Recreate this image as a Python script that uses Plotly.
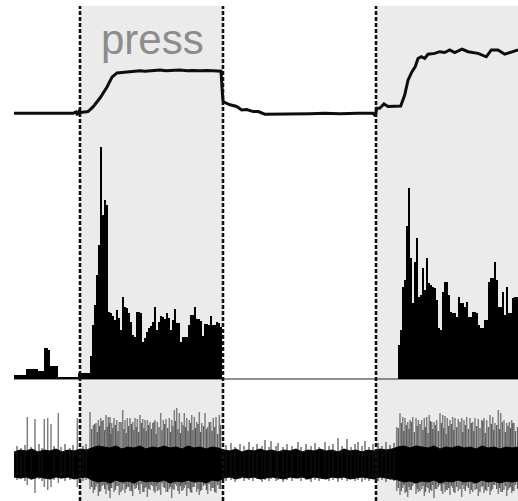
import numpy as np
import plotly.graph_objects as go

# ---------------- data (time in units of 20 ms) ----------------
press_label = "press"
press_onsets = [80, 376]
press_offsets = [223, 518]
event_lines = [80, 223, 376]

# force trace (normalised units)
force_t = [14, 73, 76, 77.5, 79, 81, 88, 93, 100, 104, 107, 112, 117, 122, 127, 133, 140, 145, 150, 155,
           160, 166, 173, 180, 187, 193, 200, 207, 213, 218, 221, 222.7, 223.3, 230, 236.7, 241.7, 246.7,
           253.3, 258.3, 264.7, 278, 291, 310, 324.7, 340, 358, 373, 375.3, 376.7, 379.7, 384, 388, 394.7,
           400.7, 404.7, 408, 412, 415.3, 418, 421.3, 424.7, 428, 434.7, 439.7, 444.7, 449.7, 454.7, 462,
           468, 478, 486.3, 491.3, 498, 504.7, 511.3, 516.3, 518]
force_v = [0, 0, 0.03, -0.04, 0.05, 0.02, 0.04, 0.15, 0.36, 0.5, 0.62, 0.85, 0.95, 0.96, 0.97, 0.99, 1.0,
           0.99, 1.0, 1.01, 1.02, 1.0, 1.01, 1.02, 1.0, 1.01, 1.0, 1.01, 1.0, 1.0, 0.99, 0.36, 0.27, 0.2,
           0.16, 0.08, 0.09, 0.04, 0.04, -0.02, -0.02, -0.02, -0.01, 0, -0.01, 0, 0, -0.06, 0.12, 0.12,
           0.22, 0.16, 0.16, 0.17, 0.43, 0.78, 0.98, 1.10, 1.29, 1.33, 1.29, 1.39, 1.41, 1.45, 1.43, 1.49,
           1.43, 1.51, 1.45, 1.41, 1.33, 1.49, 1.49, 1.39, 1.44, 1.47, 1.49]

# firing-rate histogram (Hz), bin width 2 units
bin_width = 2
rate_left_start = 14
rate_left = [2, 2, 2, 2, 2, 2, 5, 5, 5, 5, 5, 5, 4, 4, 4, 15.5, 15.5, 14.5, 6.5, 6.5, 6.5, 6.5,
             1, 1, 1, 1, 1, 1, 1, 1, 1, 1, 3, 3, 3, 3, 3, 3,
             11.5, 27, 37, 52, 67, 116, 82, 89.5, 87, 33.5,
             33, 31.5, 29.5, 34.5, 30.5, 24.5, 41, 36, 35.5, 33,
             28.5, 22, 21, 33.5, 33.5, 33, 18.5, 20.5, 23.5, 25.5,
             26.5, 28.5, 36, 24.5, 28.5, 31.5, 31, 30, 33, 30.5,
             24.5, 29.5, 35, 28, 28, 18.5, 21, 21, 21, 27,
             32, 32, 36, 30, 30, 29, 21.5, 27.5, 27.5, 27,
             31.5, 27, 27, 28.5, 28, 26]
rate_right_start = 398
rate_right = [17, 24.5, 46, 49.5, 76.5, 95.5, 60.5, 38, 58.5, 70.5,
              41, 42, 55.5, 44.5, 60.5, 48, 47, 46, 45.5, 39.5,
              25.5, 24.5, 43.5, 48.5, 48.5, 42, 33.5, 33, 33, 31,
              41, 38, 38, 36, 38.5, 31, 31, 33.5, 33.5, 33,
              27, 25.5, 25.5, 29.5, 29.5, 48.5, 50.5, 50.5, 58.5, 49.5,
              36, 36, 43.5, 32, 46, 33, 33, 40.5, 41, 41]
rate_t_start, rate_t_end = 14, 518

# raw extracellular trace: noise band envelope (sampled evenly from 14 to 518)
band_t_start, band_t_end = 14, 518
band_up = [13, 15, 14, 16, 13, 15, 14, 16, 13, 15, 14, 16, 15,
           17, 19, 18, 17, 19, 16, 18, 17, 19, 16, 18, 17, 19, 17, 18, 16, 19, 17, 18, 16, 18, 17,
           15, 14, 16, 13, 15, 14, 16, 14, 15, 13, 15, 14, 16, 13, 15, 14, 16, 14, 15, 13,
           16, 14, 15, 13, 15, 14, 16, 15, 16,
           18, 19, 17, 19, 18, 17, 19, 16, 18, 17, 19, 17, 18, 16, 19, 17, 18, 16, 18, 17, 18]
band_lo = [-12, -13, -12, -14, -12, -13, -14, -12, -13, -12, -14, -13, -12,
           -15, -17, -16, -18, -15, -17, -16, -18, -15, -17, -16, -17, -15, -18, -16, -17, -15, -17,
           -16, -18, -15, -16,
           -13, -12, -14, -12, -13, -12, -14, -13, -12, -13, -14, -12, -13, -12, -14, -12, -13, -14,
           -12, -13, -12, -14, -13, -12, -13, -14, -12, -13, -14,
           -15, -17, -16, -18, -16, -17, -15, -18, -16, -17, -15, -17, -16, -18, -15, -17, -16, -18,
           -16, -17, -16]

# small noise excursions
hair_t = [17, 21, 25, 31, 39, 42, 54, 61, 65, 70, 73, 83, 86,
          226, 231, 235, 240, 244, 249, 253, 257, 262, 265, 269, 271, 276, 278, 283, 287, 292, 298,
          301, 306, 311, 315, 319, 325, 329, 333, 338, 342, 347, 351, 355, 358, 362, 365, 369, 373,
          378, 382, 386, 390, 394]
hair_up = [19, 17, 20, 18, 21, 17, 19, 18, 21, 17, 20, 19, 21,
           20, 22, 18, 21, 19, 23, 18, 21, 19, 25, 18, 24, 19, 22, 18, 21, 19, 23,
           18, 21, 19, 22, 18, 23, 19, 21, 27, 19, 26, 18, 21, 23, 19, 24, 18, 21,
           22, 19, 23, 20, 22]
hair_dn = [-15, -14, -16, -15, -14, -16, -15, -14, -16, -15, -14, -16, -15,
           -16, -15, -17, -14, -16, -15, -16, -14, -17, -15, -16, -14, -16, -15, -17, -15, -16, -14,
           -16, -15, -17, -15, -16, -14, -16, -15, -17, -15, -16, -14, -16, -15, -17, -15, -16, -14,
           -16, -15, -17, -15, -16]

# large action potentials (upward peak / downward trough)
spike_t = [27.3, 35, 44.3, 47.7, 51, 58.3, 77.3,
           90, 93.3, 96, 98.3, 100.7, 103.3, 106, 108.3, 110, 111.7, 114, 116.7, 119.3, 122.7, 125,
           127.3, 130, 132.7, 135, 137.3, 140, 142.7, 145, 147.3, 150, 152.7, 155, 157.3, 160.7, 163.3,
           166, 169.3, 171.7, 174.3, 176.7, 179.3, 181.7, 184.3, 186.7, 189.3, 191.7, 194.3, 196.7,
           199.3, 201.7, 205, 207.7, 210.7, 213.3, 216, 219.3,
           396.7, 400, 402.7, 405, 407.7, 410, 412.7, 416, 418.3, 421.7, 424.3, 426.7, 429.3, 431.7,
           434, 436.7, 440, 442.7, 445, 447.3, 450, 452.7, 455, 458.3, 461.7, 464, 466.7, 470, 472.7,
           475, 478.3, 481.7, 484, 486.7, 490, 492.7, 495, 498.3, 500.7, 504, 506.7, 509.3, 511.7, 514]
spike_up = [48, 46, 46, 47, 41, 52, 47,
            53, 40, 42, 45, 47, 45, 50, 48, 48, 42, 47, 45, 43, 55, 45,
            47, 47, 43, 47, 46, 50, 46, 45, 45, 43, 42, 45, 43, 52, 45,
            46, 47, 45, 55, 57, 52, 43, 52, 47, 45, 50, 48, 43,
            53, 42, 52, 38, 43, 47, 48, 50,
            38, 52, 48, 47, 43, 45, 48, 47, 45, 45, 47, 48, 50, 43,
            43, 45, 52, 50, 49, 47, 45, 48, 47, 46, 47, 45, 48, 47, 43,
            47, 46, 45, 47, 45, 50, 48, 42, 55, 52, 45, 42, 43, 45, 42]
spike_dn = [-20, -28, -22, -25, -22, -18, -22,
            -24, -28, -22, -31, -26, -20, -29, -25, -33, -23, -27, -21, -30, -25, -28,
            -22, -26, -31, -24, -20, -29, -27, -23, -32, -25, -21, -28, -26, -30, -22,
            -27, -24, -33, -25, -21, -29, -26, -23, -31, -24, -28, -22, -27,
            -30, -25, -20, -29, -26, -23, -28, -24,
            -26, -30, -23, -28, -32, -25, -21, -29, -27, -24, -31, -22, -28, -26,
            -33, -24, -20, -29, -27, -25, -30, -23, -28, -26, -32, -24, -21,
            -29, -27, -25, -31, -22, -28, -26, -30, -24, -20, -29, -27, -25, -31, -23, -28, -26]

# smaller action potentials between the large ones
spike2_t = [91.7, 94.7, 97.2, 99.5, 102, 104.7, 107.2, 109.2, 110.9, 112.9, 115.4, 118, 121, 123.9,
            126.2, 128.7, 131.4, 133.9, 136.2, 138.7, 141.4, 143.9, 146.2, 148.7, 151.4, 153.9, 156.2,
            159, 162, 164.7, 167.7, 170.5, 173, 175.5, 178, 180.5, 183, 185.5, 188, 190.5, 193, 195.5,
            198, 200.5, 203.4, 206.4, 209.2, 212, 214.7, 217.7, 220.5,
            398.3, 401.3, 403.8, 406.3, 409, 411.3, 414.3, 417.2, 420, 423, 425.5, 428, 430.5, 432.8,
            435.3, 438.3, 441.3, 443.8, 446.2, 448.7, 451.3, 453.8, 456.7, 460, 462.8, 465.3, 468.3,
            471.3, 473.8, 476.7, 480, 482.8, 485.3, 488.3, 491.3, 493.8, 496.7, 499.5, 502.3, 505.3,
            508, 510.5, 512.8, 515.5, 517.5]
spike2_up = [36, 41, 33, 39, 44, 35, 38, 42, 31, 37, 40, 34, 43, 36, 32, 39, 41, 35, 38, 33,
             42, 37, 34, 40, 36, 43, 31, 38, 35, 41, 37, 33, 39, 44, 36, 32, 40, 38, 34, 42,
             35, 37, 41, 33, 39, 36, 43, 34, 38, 31, 40,
             37, 42, 34, 40, 36, 43, 33, 39, 41, 35, 38, 32, 44, 36, 40, 34, 42, 37, 31, 39,
             41, 35, 38, 43, 33, 40, 36, 42, 34, 39, 37, 44, 32, 38, 41, 35, 40, 36, 43, 33,
             39, 37, 42, 34, 38]
spike2_dn = [-22, -25, -19, -27, -21, -24, -20, -26, -23, -18, -25, -21, -27, -19, -24, -22, -26,
             -20, -23, -25, -19, -27, -22, -24, -20, -26, -21, -25, -18, -23, -27, -22, -24, -19,
             -26, -21, -25, -20, -23, -27, -22, -18, -24, -26, -21, -25, -19, -23, -27, -20, -24,
             -23, -26, -20, -27, -22, -25, -19, -24, -26, -21, -27, -23, -25, -20, -24, -22, -26,
             -19, -25, -23, -21, -27, -22, -24, -20, -26, -23, -25, -19, -24, -27, -21, -25, -22,
             -26, -20, -24, -23, -27, -21, -25, -22, -26, -20, -24]

# ---------------- figure ----------------
W, H = 518, 501
fig = go.Figure()

# top: force
fig.add_trace(go.Scatter(x=force_t, y=force_v, mode="lines", yaxis="y3",
                         line=dict(color="#0d0d0d", width=3), hoverinfo="skip"))

# middle: rate histogram
xl = rate_left_start + bin_width / 2 + bin_width * np.arange(len(rate_left))
xr = rate_right_start + bin_width / 2 + bin_width * np.arange(len(rate_right))
fig.add_trace(go.Bar(x=np.concatenate([xl, xr]), y=rate_left + rate_right, width=bin_width,
                     yaxis="y2", marker=dict(color="#000000", line=dict(width=0)), hoverinfo="skip"))


def segments(ts, ups, dns):
    xs, ys = [], []
    for t, u, d in zip(ts, ups, dns):
        xs += [t, t, None]
        ys += [d, u, None]
    return xs, ys


# bottom: raw trace
sx, sy = segments(spike_t, spike_up, spike_dn)
fig.add_trace(go.Scatter(x=sx, y=sy, mode="lines", yaxis="y",
                         line=dict(color="rgba(120,120,120,0.95)", width=1.5), hoverinfo="skip"))
s2x, s2y = segments(spike2_t, spike2_up, spike2_dn)
fig.add_trace(go.Scatter(x=s2x, y=s2y, mode="lines", yaxis="y",
                         line=dict(color="rgba(75,75,75,0.9)", width=1.3), hoverinfo="skip"))
bt = np.linspace(band_t_start, band_t_end, len(band_up))
fig.add_trace(go.Scatter(x=list(bt) + list(bt[::-1]), y=band_up + band_lo[::-1], mode="lines",
                         fill="toself", fillcolor="#000000", yaxis="y",
                         line=dict(color="#000000", width=1), hoverinfo="skip"))
hx, hy = segments(hair_t, hair_up, hair_dn)
fig.add_trace(go.Scatter(x=hx, y=hy, mode="lines", yaxis="y",
                         line=dict(color="rgba(20,20,20,0.9)", width=1), hoverinfo="skip"))

shapes = []
for x0, x1 in zip(press_onsets, press_offsets):
    shapes.append(dict(type="rect", xref="x", yref="paper", x0=x0, x1=x1, y0=0, y1=1 - 6 / H,
                       fillcolor="#ebebeb", line=dict(width=0), layer="below"))
shapes.append(dict(type="line", xref="x", yref="y2", x0=rate_t_start, x1=rate_t_end, y0=0, y1=0,
                   line=dict(color="#6a6a6a", width=1.5), layer="below"))
for xv in event_lines:
    shapes.append(dict(type="line", xref="x", yref="paper", x0=xv, x1=xv, y0=0, y1=1 - 6 / H,
                       line=dict(color="#111111", width=2.6, dash="4px,2px")))

hidden = dict(visible=False, showgrid=False, zeroline=False, fixedrange=True)
fig.update_layout(
    width=W, height=H, margin=dict(l=0, r=0, t=0, b=0),
    paper_bgcolor="white", plot_bgcolor="rgba(0,0,0,0)", showlegend=False,
    bargap=0, shapes=shapes,
    xaxis=dict(range=[0, 518], **hidden),
    yaxis=dict(domain=[0, 121 / H], range=[-36, 85], **hidden),
    yaxis2=dict(domain=[121 / H, 361 / H], range=[-0.5, 119.5], **hidden),
    yaxis3=dict(domain=[361 / H, 1], range=[-0.628, -0.628 + 140 / 42.5], **hidden),
    annotations=[dict(text=press_label, xref="x", yref="paper", x=152, y=1 - 39 / H,
                      xanchor="center", yanchor="middle", showarrow=False,
                      font=dict(family="Liberation Sans, Arial", size=42, color="#8c8c8c"))],
)

fig.write_html("out.html", config={"displayModeBar": False},
               post_script="document.body.style.margin='0';document.body.style.overflow='hidden';")
